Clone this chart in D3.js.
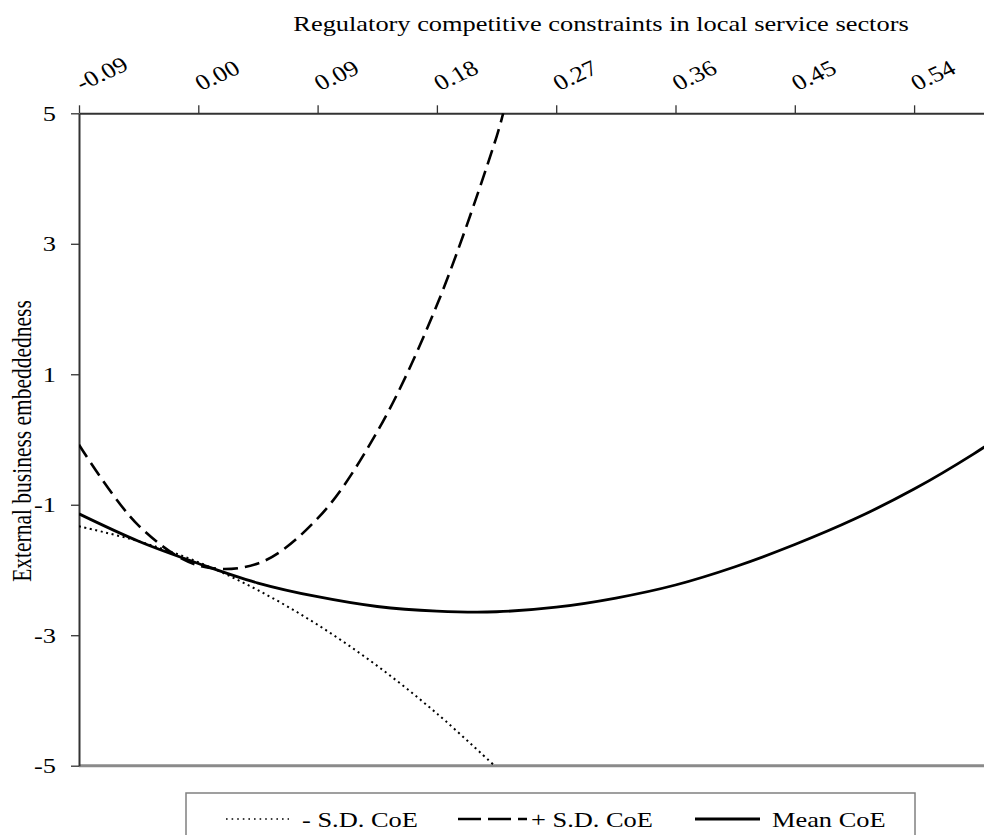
<!DOCTYPE html>
<html><head><meta charset="utf-8">
<script src="https://cdn.jsdelivr.net/npm/d3@7"></script>
<style>
body{margin:0;background:#fff}
svg{display:block}
text{font-family:"Liberation Serif","Times New Roman",serif;fill:#000}
</style>
</head><body><svg id="chart" width="984" height="835"></svg>
<script>
// ---------- data ----------
const xTickValues = [-0.09, 0, 0.09, 0.18, 0.27, 0.36, 0.45, 0.54];
const xTickLabels = ["-0.09", "0.00", "0.09", "0.18", "0.27", "0.36", "0.45", "0.54"];
const yTickValues = [5, 3, 1, -1, -3, -5];
const yTickLabels = ["5", "3", "1", "-1", "-3", "-5"];

const meanX = [-0.09, -0.045, 0, 0.045, 0.09, 0.135, 0.18, 0.225, 0.27, 0.315, 0.36, 0.405, 0.45, 0.495, 0.54, 0.585, 0.63];
const meanCoE = [-1.14, -1.56, -1.90, -2.20, -2.41, -2.56, -2.63, -2.64, -2.57, -2.43, -2.23, -1.95, -1.61, -1.22, -0.76, -0.22, 0.39];

const minusX = [-0.09, -0.045, 0, 0.045, 0.09, 0.135, 0.18, 0.225];
const minusSD = [-1.33, -1.56, -1.88, -2.31, -2.84, -3.47, -4.20, -5.03];

const plusX = [-0.09, -0.045, 0, 0.045, 0.09, 0.135, 0.18, 0.225, 0.23];
const plusSD = [-0.08, -1.32, -1.93, -1.90, -1.21, 0.12, 2.06, 4.64, 5.0];

const seriesNames = ["- S.D. CoE", "+ S.D. CoE", "Mean CoE"];
const xTitle = "Regulatory competitive constraints in local service sectors";
const yTitle = "External business embeddedness";

// ---------- layout ----------
const svg = d3.select("#chart");
const plotLeft = 79, plotTop = 113.3, plotBottom = 765.7, tickStep = 119.3;
const FS = 22, SX = 1.2;

const x = d3.scaleLinear().domain([-0.09, 0.63]).range([plotLeft, plotLeft + 8 * tickStep]);
const y = d3.scaleLinear().domain([-5, 5]).range([plotBottom, plotTop]);

svg.append("defs").append("clipPath").attr("id", "plotClip")
  .append("rect").attr("x", plotLeft).attr("y", plotTop).attr("width", 984 - plotLeft).attr("height", plotBottom - plotTop);

// bottom gray line (x at -5)
svg.append("line")
  .attr("x1", plotLeft).attr("x2", 984).attr("y1", y(-5)).attr("y2", y(-5))
  .attr("stroke", "#8a8a8a").attr("stroke-width", 3);

// top axis
const gx = svg.append("g").attr("transform", `translate(0,${plotTop})`)
  .call(d3.axisTop(x).tickValues(xTickValues).tickSize(8).tickSizeOuter(0).tickFormat(""));
gx.select(".domain").attr("stroke", "#333").attr("stroke-width", 2);
gx.selectAll(".tick line").attr("stroke", "#333").attr("stroke-width", 1.3);

// left axis
const gy = svg.append("g").attr("transform", `translate(${plotLeft},0)`)
  .call(d3.axisLeft(y).tickValues(yTickValues).tickSize(8).tickSizeOuter(0).tickFormat(""));
gy.select(".domain").attr("stroke", "#333").attr("stroke-width", 2);
gy.selectAll(".tick line").attr("stroke", "#333").attr("stroke-width", 1.3);

// x tick labels (rotated)
svg.append("g").selectAll("text").data(xTickValues).join("text")
  .attr("transform", d => `translate(${x(d) + 3},91) scale(${SX},1) rotate(-29)`)
  .attr("font-size", FS).attr("text-anchor", "start")
  .text((d, i) => xTickLabels[i]);

// y tick labels
svg.append("g").selectAll("text").data(yTickValues).join("text")
  .attr("transform", d => `translate(56,${y(d) + 7.5}) scale(${SX},1)`)
  .attr("font-size", FS).attr("text-anchor", "end")
  .text((d, i) => yTickLabels[i]);

// axis titles
svg.append("text")
  .attr("transform", `translate(601,31) scale(${SX},1)`)
  .attr("font-size", FS).attr("text-anchor", "middle").text(xTitle);
svg.append("text")
  .attr("transform", `translate(31,441) scale(1.3,1) rotate(-90)`)
  .attr("font-size", 21.5).attr("text-anchor", "middle").text(yTitle);

// ---------- lines ----------
const line = d3.line().x(d => x(d[0])).y(d => y(d[1])).curve(d3.curveCatmullRom.alpha(0.5));
const plot = svg.append("g").attr("clip-path", "url(#plotClip)");

const styles = [
  {xs: minusX, ys: minusSD, w: 2, dash: "2,3.6"},
  {xs: plusX, ys: plusSD, w: 2.6, dash: "15,7"},
  {xs: meanX, ys: meanCoE, w: 2.8, dash: null}
];
styles.forEach(s => {
  plot.append("path")
    .datum(s.xs.map((v, i) => [v, s.ys[i]]))
    .attr("d", line)
    .attr("fill", "none").attr("stroke", "#000")
    .attr("stroke-width", s.w)
    .attr("stroke-dasharray", s.dash);
});

// ---------- legend ----------
const lg = svg.append("g");
lg.append("rect").attr("x", 186).attr("y", 793).attr("width", 729).attr("height", 60)
  .attr("fill", "#fff").attr("stroke", "#808080").attr("stroke-width", 1.5);
const legendItems = [
  {x1: 226, x2: 289, tx: 302, w: 1.6, dash: "1.6,4"},
  {x1: 458, x2: 527, tx: 531, w: 2.6, dash: "23,7"},
  {x1: 695, x2: 760, tx: 772, w: 2.8, dash: null}
];
legendItems.forEach((it, i) => {
  lg.append("line").attr("x1", it.x1).attr("x2", it.x2).attr("y1", 819).attr("y2", 819)
    .attr("stroke", "#000").attr("stroke-width", it.w).attr("stroke-dasharray", it.dash);
  lg.append("text").attr("transform", `translate(${it.tx},826.5) scale(${SX},1)`)
    .attr("font-size", FS).text(seriesNames[i]);
});
</script>
</body></html>
